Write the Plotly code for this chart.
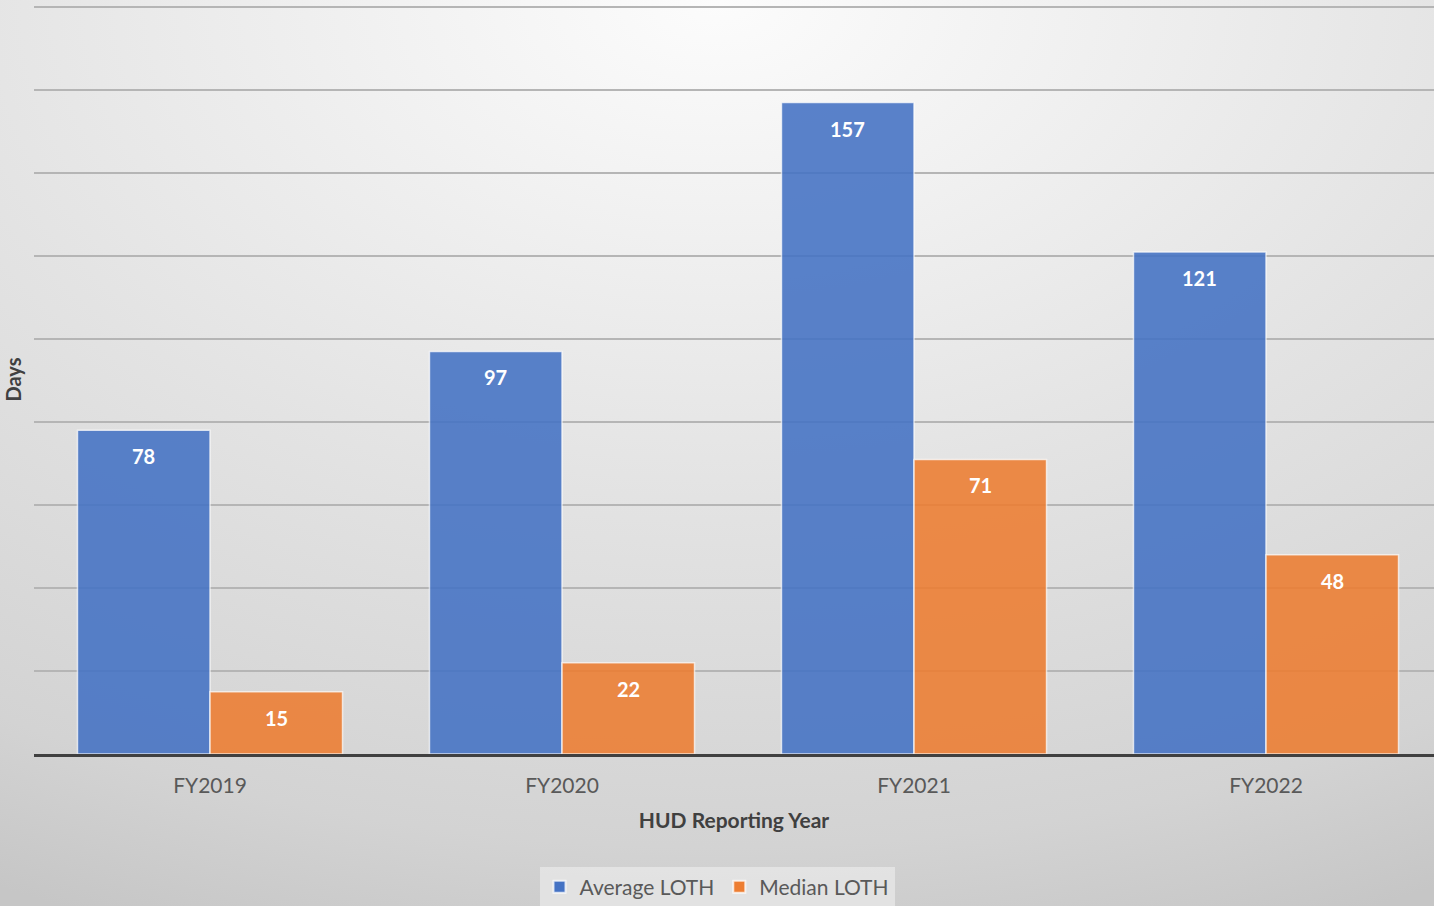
import base64
import plotly.graph_objects as go

# Length of time homeless (days) by HUD reporting year
years = ["FY2019", "FY2020", "FY2021", "FY2022"]
average_loth = [78, 97, 157, 121]
median_loth = [15, 22, 71, 48]

W, H = 1434, 906
M_L, M_R, M_T, M_B = 34, 0, 5, 152
plot_w = W - M_L - M_R
plot_h = H - M_T - M_B

BLUE = "#4472C4"
ORANGE = "#ED7D31"
FONT = "Lato, 'Open Sans', sans-serif"

# soft radial backdrop, light at top centre, greying toward the corners
svg = (
    '<svg xmlns="http://www.w3.org/2000/svg" width="1434" height="906" '
    'preserveAspectRatio="none" viewBox="0 0 1434 906">'
    '<defs><radialGradient id="g" cx="0.5" cy="0.0" r="1.1">'
    '<stop offset="0" stop-color="#fcfcfc"/>'
    '<stop offset="0.5" stop-color="#e3e3e3"/>'
    '<stop offset="0.85" stop-color="#d3d3d3"/>'
    '<stop offset="1" stop-color="#c6c6c6"/>'
    '</radialGradient></defs>'
    '<rect width="1434" height="906" fill="url(#g)"/></svg>'
)
bg_src = "data:image/svg+xml;base64," + base64.b64encode(svg.encode()).decode()

fig = go.Figure()
fig.add_trace(go.Bar(
    name="Average LOTH", x=years, y=average_loth,
    marker=dict(color=BLUE, opacity=0.88,
                line=dict(color="rgba(255,255,255,0.75)", width=1.5)),
    hoverinfo="x+y",
))
fig.add_trace(go.Bar(
    name="Median LOTH", x=years, y=median_loth,
    marker=dict(color=ORANGE, opacity=0.88,
                line=dict(color="rgba(255,255,255,0.75)", width=1.5)),
    hoverinfo="x+y",
))

# value labels just inside the top of each bar
bar_w = (1 - 0.247) / 2
annotations = []
for i, (a, m) in enumerate(zip(average_loth, median_loth)):
    for val, off in ((a, -bar_w / 2), (m, bar_w / 2)):
        annotations.append(dict(
            x=i + off, y=val, xref="x", yref="y", text=f"<b>{val}</b>",
            showarrow=False, yshift=-26,
            font=dict(family=FONT, size=20, color="white"),
        ))

fig.update_layout(
    width=W, height=H,
    margin=dict(l=M_L, r=M_R, t=M_T, b=M_B, autoexpand=False),
    paper_bgcolor="#d6d6d6",
    plot_bgcolor="rgba(0,0,0,0)",
    barmode="group", bargap=0.247, bargroupgap=0,
    font=dict(family=FONT, size=20, color="#595959"),
    showlegend=True,
    legend=dict(
        orientation="h", x=(W / 2 - M_L) / plot_w, xanchor="center",
        y=-(887 - (H - M_B)) / plot_h, yanchor="middle",
        bgcolor="rgba(232,232,232,0.75)",
        font=dict(family=FONT, size=21, color="#595959"),
        itemwidth=30, itemsizing="constant", traceorder="normal",
    ),
    annotations=annotations,
    images=[dict(
        source=bg_src, xref="paper", yref="paper",
        x=-M_L / plot_w, y=1 + M_T / plot_h,
        sizex=W / plot_w, sizey=H / plot_h,
        xanchor="left", yanchor="top", sizing="stretch", layer="below",
    )],
)

fig.update_xaxes(
    range=[-0.5, -0.5 + plot_w / 352.0],
    showgrid=False, showline=True, linecolor="#404040", linewidth=3,
    ticks="outside", ticklen=11, tickcolor="rgba(0,0,0,0)",
    tickfont=dict(family=FONT, size=21, color="#595959"),
    title=dict(text="<b>HUD Reporting Year</b>", standoff=18,
               font=dict(family=FONT, size=21, color="#404040")),
)
fig.update_yaxes(
    range=[0, 180.5], dtick=20, showticklabels=False,
    showgrid=True, gridcolor="#b5b5b5", gridwidth=2,
    zeroline=False, showline=False,
    title=dict(text="<b>Days</b>", standoff=6,
               font=dict(family=FONT, size=20, color="#404040")),
)

fig.write_html("out.html")
